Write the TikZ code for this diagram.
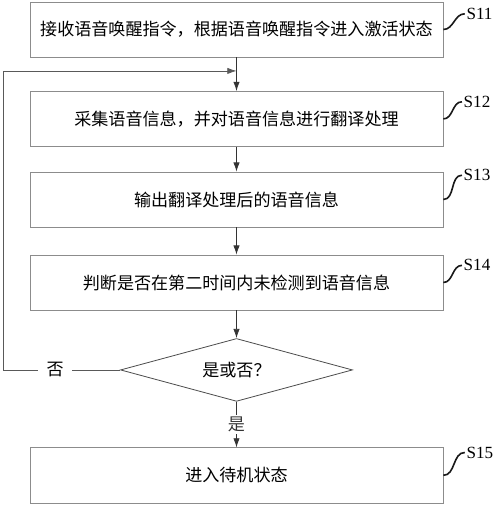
\documentclass[tikz,border=0pt]{standalone}
\usepackage{fontspec}
\setmainfont{Liberation Serif}
\newfontfamily\cjk{Noto Sans CJK SC}
\usetikzlibrary{shapes.geometric, arrows.meta}

\begin{document}
\begin{tikzpicture}[
  stepbox/.style={rectangle, draw=black!45, line width=0.7pt, minimum width=14.455cm, minimum height=1.93cm, font=\cjk\fontsize{17}{20}\selectfont},
  decide/.style={diamond, draw=black!70, line width=0.8pt, minimum width=8.12cm, minimum height=2.2cm, aspect=3.7, inner sep=0pt, font=\cjk\fontsize{17}{20}\selectfont},
  tag/.style={anchor=west, inner sep=1pt, font=\fontsize{17}{20}\selectfont},
  tagline/.style={draw=black!90, line width=1.6pt},
  flow/.style={-{Latex[length=3.2mm, width=2.2mm]}, black!80, line width=0.7pt},
  node distance=3cm
]
\useasboundingbox (-8.2775,1.0325) rectangle (9.2225,-16.7125);

\node[stepbox] (s11) {接收语音唤醒指令，根据语音唤醒指令进入激活状态};
\node[stepbox, below of=s11, node distance=3.13cm] (s12) {采集语音信息，并对语音信息进行翻译处理};
\node[stepbox, below of=s12, node distance=2.82cm] (s13) {输出翻译处理后的语音信息};
\node[stepbox, below of=s13, node distance=2.905cm] (s14) {判断是否在第二时间内未检测到语音信息};
\node[decide, below of=s14, node distance=3.06cm] (dec) {是或否？};
\node[stepbox, below of=dec, node distance=3.69cm] (s15) {进入待机状态};

\node[left of=dec, node distance=6.35cm, inner xsep=0.3cm, font=\cjk\fontsize{17}{20}\selectfont] (no) {否};
\coordinate[below of=s11, node distance=1.45cm] (join);

% step tags
\draw[tagline] (s11.east) to[out=0, in=180] ++(0.75,0.55) node[tag] {S11};
\draw[tagline] (s12.east) to[out=0, in=180] ++(0.65,0.6) node[tag] {S12};
\draw[tagline] (s13.east) to[out=0, in=180] ++(0.65,0.85) node[tag] {S13};
\draw[tagline] (s14.east) to[out=0, in=180] ++(0.65,0.6) node[tag] {S14};
\draw[tagline] (s15.east) to[out=0, in=180] ++(0.75,0.8) node[tag] {S15};

% flow
\draw[flow] (s11) -- (s12);
\draw[flow] (s12) -- (s13);
\draw[flow] (s13) -- (s14);
\draw[flow] (s14) -- (dec);
\draw[flow] (dec) -- node[fill=white, inner sep=2pt, font=\cjk\fontsize{17}{20}\selectfont] {是} (s15);
\draw[black!65, line width=0.7pt] (dec.west) -- (no.east);
\draw[flow, black!65] (no.west) -- ++(-1.19,0) |- (join);
\end{tikzpicture}
\end{document}
